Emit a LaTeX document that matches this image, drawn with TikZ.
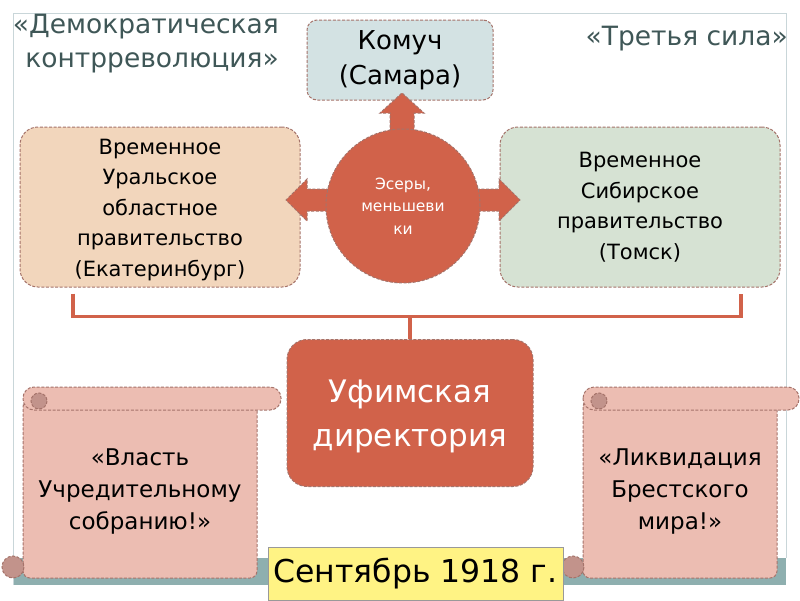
\documentclass[tikz,border=0pt]{standalone}
\usepackage{fontspec}
\setmainfont{DejaVu Sans}
\usetikzlibrary{calc}
\definecolor{titlec}{HTML}{3F5757}
\definecolor{bordc}{HTML}{A5736A}
\definecolor{komc}{HTML}{D3E2E3}
\definecolor{uralc}{HTML}{F2D6BC}
\definecolor{sibc}{HTML}{D6E2D3}
\definecolor{redc}{HTML}{D1624A}
\definecolor{scrollc}{HTML}{ECBDB2}
\definecolor{curlc}{HTML}{C2938B}
\definecolor{tealc}{HTML}{8EAFAF}
\definecolor{framec}{HTML}{C9D6D9}
\definecolor{datec}{HTML}{FFF384}
\tikzset{
  dbord/.style={draw=bordc, line width=1pt, dash pattern=on 3pt off 1.6pt},
  box/.style={dbord, align=center, inner sep=0pt, font=\fontsize{21}{30.5}\selectfont},
  brack/.style={draw=redc, line width=3.5pt},
  scrolltext/.style={align=center, inner sep=0pt, font=\fontsize{23}{32}\selectfont},
  titletext/.style={text=titlec, inner sep=0pt, font=\fontsize{26.5}{34}\selectfont}
}
\begin{document}
\begin{tikzpicture}[x=1pt,y=-1pt]
\useasboundingbox (0,0) rectangle (800,600);
\fill[white] (0,0) rectangle (800,600);
% frame and bottom bar
\fill[tealc] (13,558) rectangle (786,585);
\draw[framec, line width=1pt] (13,585) -- (13,13) -- (786,13) -- (786,558);
% titles
\node[titletext, align=right, anchor=base east] (tleft) at (279,67) {«Демократическая\\контрреволюция»};
\node[titletext, anchor=base east] (tright) at (788,45) {«Третья сила»};
% boxes
\node[box, fill=komc, minimum width=186pt, minimum height=80pt, rounded corners=10pt, font=\fontsize{26}{35}\selectfont] (komuch) at (400,60) {Комуч\\(Самара)};
\node[box, fill=uralc, minimum width=280pt, minimum height=160pt, rounded corners=18pt] (ural) at (160,207) {};
\node[align=center, inner sep=0pt, font=\fontsize{21}{30.5}\selectfont] (uraltext) at (160,210) {Временное\\Уральское\\областное\\правительство\\(Екатеринбург)};
\node[box, fill=sibc, minimum width=280pt, minimum height=160pt, rounded corners=18pt] (sib) at (640,207) {Временное\\Сибирское\\правительство\\(Томск)};
% block arrows from the circle
\coordinate (cc) at (403,206);
\begin{scope}[shift={(cc)}]
\draw[dbord, fill=redc] (-13,-60) -- (-13,-93) -- (-23,-93) -- (-1,-113) -- (21,-93) -- (11,-93) -- (11,-60) -- cycle;
\draw[dbord, fill=redc] (-60,-17) -- (-96,-17) -- (-96,-27) -- (-117,-6) -- (-96,15) -- (-96,5) -- (-60,5) -- cycle;
\draw[dbord, fill=redc] (60,-17) -- (96,-17) -- (96,-27) -- (117,-6) -- (96,15) -- (96,5) -- (60,5) -- cycle;
\end{scope}
\node[dbord, circle, fill=redc, minimum size=154pt, inner sep=0pt, align=center, text=white, font=\fontsize{15.5}{22.5}\selectfont] (esery) at (cc) {Эсеры,\\меньшеви\\ки};
% Ufa directory
\node[dbord, fill=redc, minimum width=246pt, minimum height=147pt, rounded corners=20pt, inner sep=0pt, align=center, text=white, font=\fontsize{31}{44}\selectfont] (ufa) at (410,413) {};
\node[align=center, inner sep=0pt, text=white, font=\fontsize{31}{44}\selectfont] (ufatext) at (410,416) {Уфимская\\директория};
% bracket
\draw[brack] ([shift={(-87,6)}]ural.south) -- ++(0,23) coordinate (bl) -| ([shift={(101,6)}]sib.south);
\draw[brack] (ufa.north) -- ++(0,-24);
% left scroll
\draw[dbord, fill=scrollc, rounded corners=7pt] (23,400) -- (257,400) -- (257,578) -- (23,578) -- cycle;
\draw[dbord, fill=scrollc, rounded corners=11pt] (23,387) rectangle (281,410);
\draw[dbord, fill=curlc] (39,401) circle (8);
\draw[dbord, fill=curlc] (13,567) circle (11);
\node[scrolltext] (slogan1) at (140,491) {«Власть\\Учредительному\\собранию!»};
% right scroll
\draw[dbord, fill=scrollc, rounded corners=7pt] (583,400) -- (777,400) -- (777,578) -- (583,578) -- cycle;
\draw[dbord, fill=scrollc, rounded corners=11pt] (583,387) rectangle (799,410);
\draw[dbord, fill=curlc] (599,401) circle (8);
\draw[dbord, fill=curlc] (573,567) circle (11);
\node[scrolltext] (slogan2) at (680,491) {«Ликвидация\\Брестского\\мира!»};
% date
\node[draw=gray!80, line width=0.8pt, fill=datec, minimum width=295pt, minimum height=53pt, inner sep=0pt, font=\fontsize{31.5}{36}\selectfont] (date) at (415.5,574) {Сентябрь 1918 г.};
\end{tikzpicture}
\end{document}
